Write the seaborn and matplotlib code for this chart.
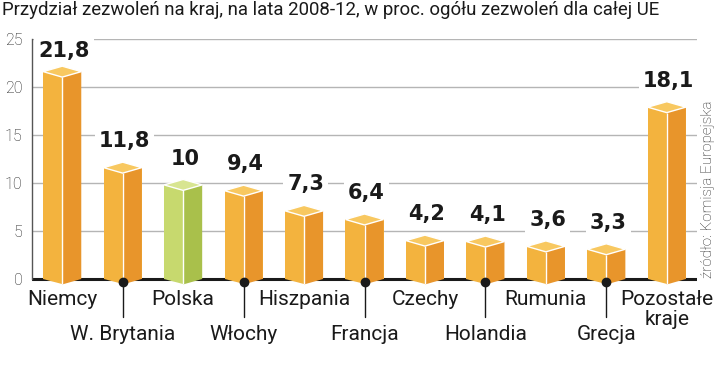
import matplotlib
matplotlib.use("Agg")
import matplotlib.pyplot as plt
import seaborn as sns
import numpy as np
from matplotlib.patches import Polygon

categories = ["Niemcy", "W. Brytania", "Polska", "Włochy", "Hiszpania", "Francja",
              "Czechy", "Holandia", "Rumunia", "Grecja", "Pozostałe\nkraje"]
values = [21.8, 11.8, 10.0, 9.4, 7.3, 6.4, 4.2, 4.1, 3.6, 3.3, 18.1]
value_labels = ["21,8", "11,8", "10", "9,4", "7,3", "6,4", "4,2", "4,1", "3,6", "3,3", "18,1"]
yticks = [0, 5, 10, 15, 20, 25]
title = "Przydział zezwoleń na kraj, na lata 2008-12, w proc. ogółu zezwoleń dla całej UE"
source = "źródło: Komisja Europejska"

ORANGE = ("#F3B33E", "#E8952B", "#F8C860")
GREEN = ("#C7D96E", "#A9C04B", "#D8E591")
cols = [GREEN if c == "Polska" else ORANGE for c in categories]

sns.set_theme(style="white")
plt.rcParams["font.family"] = ["Roboto", "DejaVu Sans"]

fig = plt.figure(figsize=(7.2, 3.71), dpi=100)
ax = fig.add_axes([32/720, (371-288.6)/371, (697-32)/720, (288.6-39)/371])

W = 0.63
D = 0.57
SHIFT = 0.2
xs = np.arange(len(categories))

for y in yticks[1:]:
    ax.axhline(y, color="#B5B5B5", lw=1.0, zorder=0)
ax.axhline(0, color="#1a1a1a", lw=2.2, zorder=1)

sns.barplot(x=list(range(len(categories))), y=[v - SHIFT for v in values],
            hue=list(range(len(categories))),
            palette=[c[0] for c in cols], legend=False, width=W, saturation=1,
            ax=ax, zorder=2, linewidth=0)

for x, v, c in zip(xs, values, cols):
    t = v - SHIFT
    ax.add_patch(Polygon([(x - W/2, 0), (x, 0), (x, -D)], closed=True,
                         facecolor=c[0], edgecolor="none", zorder=2))
    ax.add_patch(Polygon([(x, t - D), (x + W/2, t), (x + W/2, 0), (x, -D)], closed=True,
                         facecolor=c[1], edgecolor="none", zorder=3))
    ax.plot([x, x], [t - D, -D], color="white", lw=1.0, zorder=4, solid_capstyle="butt")
    ax.add_patch(Polygon([(x - W/2, t), (x, t + D), (x + W/2, t), (x, t - D)], closed=True,
                         facecolor=c[2], edgecolor="white", lw=1.0, zorder=5))

for x, v, lab in zip(xs, values, value_labels):
    y = min(v - SHIFT + D + 1.55, 23.15)
    ax.text(x + 0.03, y, lab, ha="center", va="baseline", fontsize=15,
            fontweight="bold", family=["DejaVu Sans"], color="#1a1a1a", zorder=6,
            bbox=dict(boxstyle="square,pad=0.2", fc="white", ec="none"))

for i, (x, lab) in enumerate(zip(xs, categories)):
    if i % 2 == 0:
        for k, line in enumerate(lab.split("\n")):
            ax.annotate(line, (x, -2.71), xytext=(0, -14.4 * k), textcoords="offset points",
                        ha="center", va="baseline", fontsize=15, color="#1a1a1a",
                        annotation_clip=False)
    else:
        ax.plot([x, x], [-0.3, -4.0], color="#1a1a1a", lw=1.0, clip_on=False, zorder=6)
        ax.plot([x], [-0.3], "o", color="#1a1a1a", ms=6, clip_on=False, zorder=7)
        ax.text(x, -6.35, lab, ha="center", va="baseline", fontsize=15, color="#1a1a1a",
                clip_on=False)

ax.set_xlim(-0.5, 10.5)
ax.set_ylim(-1.0, 25)
ax.set_xticks([])
ax.set_xlabel("")
ax.set_yticks(yticks)
ax.set_yticklabels([str(t) for t in yticks], fontsize=11.5, fontweight="light", color="#1a1a1a")
ax.tick_params(axis="y", length=0, pad=7)
for s in ["top", "right", "bottom"]:
    ax.spines[s].set_visible(False)
ax.spines["left"].set_bounds(0, 25)
ax.spines["left"].set_color("#555555")
ax.spines["left"].set_linewidth(1.0)

fig.text(2/720, 1 - 10/371, title, ha="left", va="center", fontsize=13.4,
         color="#1a1a1a")
fig.text(708/720, (371-278)/371, source, rotation=90, ha="center", va="bottom",
         fontsize=11, fontweight="light", color="#222222")

fig.savefig("out.png", dpi=100)
